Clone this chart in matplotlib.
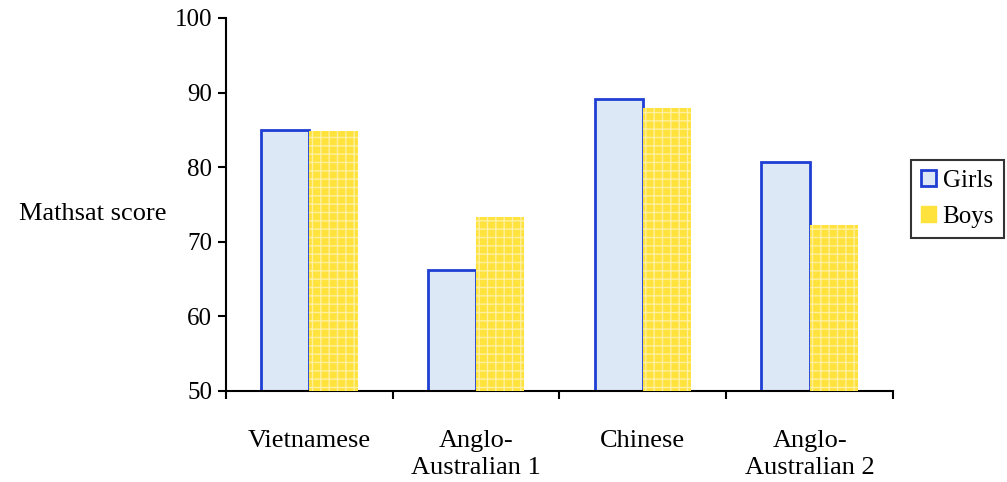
import matplotlib.pyplot as plt
import numpy as np
from matplotlib.patches import Patch

groups = ["Vietnamese", "Anglo-\nAustralian 1", "Chinese", "Anglo-\nAustralian 2"]
girls = [85.0, 66.2, 89.2, 80.7]
boys = [84.9, 73.3, 87.9, 72.2]

plt.rcParams['font.family'] = ['Liberation Serif', 'DejaVu Serif']

fig = plt.figure(figsize=(10.07, 4.82), dpi=100)
ax = fig.add_axes([0.2244, 0.1888, 0.6624, 0.7739])

x = np.arange(len(groups))
w = 0.29
girl_fill = '#dde8f7'
girl_edge = '#1f3fd4'
boy_fill = '#ffe23c'

ax.bar(x - w / 2, girls, width=w, color=girl_fill, edgecolor=girl_edge,
       linewidth=2, zorder=2)
ax.bar(x + w / 2, boys, width=w, color=boy_fill, edgecolor='#fff0a0', hatch='++',
       linewidth=0, zorder=3)

ax.set_ylim(50, 100)
ax.set_xlim(-0.5, len(groups) - 0.5)
ax.set_yticks([50, 60, 70, 80, 90, 100])
ax.tick_params(axis='y', direction='out', length=6, width=1.5, labelsize=18, pad=4)

ax.set_xticks(x)
ax.set_xticklabels(groups, fontsize=19, linespacing=1.3)
ax.tick_params(axis='x', which='major', length=0, pad=28)
ax.set_xticks(np.arange(-0.5, len(groups)), minor=True)
ax.tick_params(axis='x', which='minor', direction='out', length=6, width=1.5)

for s in ['top', 'right']:
    ax.spines[s].set_visible(False)
for s in ['left', 'bottom']:
    ax.spines[s].set_linewidth(1.5)

fig.text(0.092, 0.557, "Mathsat score", fontsize=19, ha='center', va='center')

handles = [Patch(facecolor=girl_fill, edgecolor=girl_edge, linewidth=2),
           Patch(facecolor=boy_fill, edgecolor=boy_fill)]
leg = fig.legend(handles, ["Girls", "Boys"], loc='center', bbox_to_anchor=(0.951, 0.587),
                 fontsize=18, frameon=True, fancybox=False, edgecolor='black',
                 handlelength=0.6, handleheight=0.6, handletextpad=0.25,
                 borderpad=0.4, labelspacing=0.55, borderaxespad=0)
leg.get_frame().set_linewidth(1.5)

fig.savefig("out.png", dpi=100)
